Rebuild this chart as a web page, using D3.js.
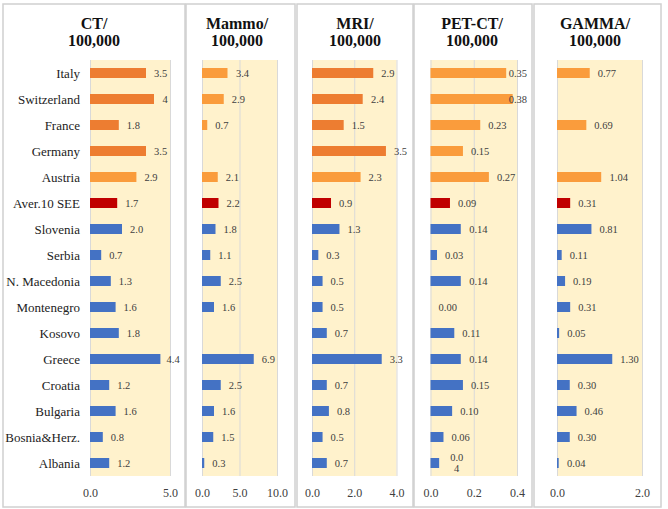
<!DOCTYPE html>
<html>
<head>
<meta charset="utf-8">
<script src="https://cdn.jsdelivr.net/npm/d3@7"></script>
<style>
  body { margin: 0; background: #fff; }
  svg { display: block; }
  svg text { font-family: "Liberation Serif", "DejaVu Serif", serif; }
  .grid line { stroke: #d9d9d9; stroke-width: 1; }
  .grid path { display: none; }
  .tick-labels path, .tick-labels line { display: none; }
  .tick-labels text { font-size: 12px; fill: #404040; }
</style>
</head>
<body>
<svg id="chart" width="668" height="509"></svg>
<script>
// categories, top to bottom
const categories = ["Italy", "Switzerland", "France", "Germany", "Austria", "Aver.10 SEE",
  "Slovenia", "Serbia", "N. Macedonia", "Montenegro", "Kosovo", "Greece", "Croatia",
  "Bulgaria", "Bosnia&Herz.", "Albania"];
// ref = western reference countries, aut = Austria, avg = SEE average, see = SEE countries
const groups = ["ref", "ref", "ref", "ref", "aut", "avg",
  "see", "see", "see", "see", "see", "see", "see", "see", "see", "see"];

const ctValues    = [3.5, 4, 1.8, 3.5, 2.9, 1.7, 2.0, 0.7, 1.3, 1.6, 1.8, 4.4, 1.2, 1.6, 0.8, 1.2];
const ctLabels    = ["3.5", "4", "1.8", "3.5", "2.9", "1.7", "2.0", "0.7", "1.3", "1.6", "1.8", "4.4", "1.2", "1.6", "0.8", "1.2"];
const mammoValues = [3.4, 2.9, 0.7, null, 2.1, 2.2, 1.8, 1.1, 2.5, 1.6, null, 6.9, 2.5, 1.6, 1.5, 0.3];
const mammoLabels = ["3.4", "2.9", "0.7", "", "2.1", "2.2", "1.8", "1.1", "2.5", "1.6", "", "6.9", "2.5", "1.6", "1.5", "0.3"];
const mriValues   = [2.9, 2.4, 1.5, 3.5, 2.3, 0.9, 1.3, 0.3, 0.5, 0.5, 0.7, 3.3, 0.7, 0.8, 0.5, 0.7];
const mriLabels   = ["2.9", "2.4", "1.5", "3.5", "2.3", "0.9", "1.3", "0.3", "0.5", "0.5", "0.7", "3.3", "0.7", "0.8", "0.5", "0.7"];
const petValues   = [0.35, 0.38, 0.23, 0.15, 0.27, 0.09, 0.14, 0.03, 0.14, 0.00, 0.11, 0.14, 0.15, 0.10, 0.06, 0.04];
const petLabels   = ["0.35", "0.38", "0.23", "0.15", "0.27", "0.09", "0.14", "0.03", "0.14", "0.00", "0.11", "0.14", "0.15", "0.10", "0.06", "0.0\n4"];
const gammaValues = [0.77, null, 0.69, null, 1.04, 0.31, 0.81, 0.11, 0.19, 0.31, 0.05, 1.30, 0.30, 0.46, 0.30, 0.04];
const gammaLabels = ["0.77", "", "0.69", "", "1.04", "0.31", "0.81", "0.11", "0.19", "0.31", "0.05", "1.30", "0.30", "0.46", "0.30", "0.04"];

const titles = [["CT/", "100,000"], ["Mammo/", "100,000"], ["MRI/", "100,000"], ["PET-CT/", "100,000"], ["GAMMA/", "100,000"]];
const axisMax = [5, 10, 4, 0.4, 2];
const axisTicks = [[0, 5], [0, 5, 10], [0, 2, 4], [0, 0.2, 0.4], [0, 2]];

const darkOrange = "#ed7d31", lightOrange = "#fa9c3c";
const colors = { aut: lightOrange, avg: "#c00000", see: "#4472c4" };

// layout of the five panels
const layout = [
  { box: [3, 185],   plot: [90, 170],    titleX: 94,  ref: darkOrange },
  { box: [186, 295], plot: [202, 277],   titleX: 237, ref: lightOrange },
  { box: [297, 413], plot: [312, 396.5], titleX: 355, ref: darkOrange },
  { box: [414, 532], plot: [430.5, 517], titleX: 472, ref: lightOrange },
  { box: [534, 661], plot: [557, 642],   titleX: 595, ref: lightOrange }
];
const panelValues = [ctValues, mammoValues, mriValues, petValues, gammaValues];
const panelLabels = [ctLabels, mammoLabels, mriLabels, petLabels, gammaLabels];

const plotTop = 60, plotBottom = 476, boxTop = 4, boxBottom = 507;
const barH = 10;

const svg = d3.select("#chart");

const y = d3.scaleBand()
  .domain(categories)
  .range([plotTop, plotBottom])
  .paddingInner(0)
  .paddingOuter(0);

// category names on the first panel
svg.append("g")
  .selectAll("text")
  .data(categories)
  .join("text")
  .attr("x", 80)
  .attr("y", d => y(d) + y.bandwidth() / 2)
  .attr("dy", "0.35em")
  .attr("text-anchor", "end")
  .attr("font-size", 13)
  .attr("fill", "#222")
  .text(d => d);

layout.forEach((p, i) => {
  const g = svg.append("g");

  g.append("rect")
    .attr("x", p.box[0]).attr("y", boxTop)
    .attr("width", p.box[1] - p.box[0]).attr("height", boxBottom - boxTop)
    .attr("fill", "none").attr("stroke", "#d0d0d0").attr("stroke-width", 1.5);

  g.append("text")
    .attr("x", p.titleX).attr("y", 29)
    .attr("text-anchor", "middle")
    .attr("font-size", 16).attr("font-weight", "bold").attr("fill", "#111")
    .selectAll("tspan")
    .data(titles[i])
    .join("tspan")
    .attr("x", p.titleX)
    .attr("dy", (d, j) => j === 0 ? 0 : 17)
    .text(d => d);

  const x = d3.scaleLinear().domain([0, axisMax[i]]).range(p.plot);

  g.append("rect")
    .attr("x", p.plot[0]).attr("y", plotTop)
    .attr("width", p.plot[1] - p.plot[0]).attr("height", plotBottom - plotTop)
    .attr("fill", "#fff2cc");

  g.append("g")
    .attr("class", "grid")
    .attr("transform", `translate(0,${plotBottom})`)
    .call(d3.axisBottom(x).tickValues(axisTicks[i]).tickSize(-(plotBottom - plotTop)).tickFormat(""));

  g.append("g")
    .attr("class", "tick-labels")
    .attr("transform", `translate(0,${plotBottom + 9})`)
    .call(d3.axisBottom(x).tickValues(axisTicks[i]).tickSize(0).tickFormat(d3.format(".1f")));

  const rows = categories.map((c, j) => ({
    cat: c, group: groups[j], value: panelValues[i][j], label: panelLabels[i][j]
  }));

  g.append("g")
    .selectAll("rect")
    .data(rows.filter(d => d.value !== null))
    .join("rect")
    .attr("x", x(0))
    .attr("y", d => y(d.cat) + (y.bandwidth() - barH) / 2)
    .attr("width", d => x(d.value) - x(0))
    .attr("height", barH)
    .attr("fill", d => d.group === "ref" ? p.ref : colors[d.group]);

  // value labels, kept inside the panel
  const lab = g.append("g")
    .selectAll("text")
    .data(rows.filter(d => d.value !== null))
    .join("text")
    .attr("font-size", 10.5)
    .attr("fill", "#404040")
    .attr("text-anchor", "middle");

  lab.each(function(d) {
    const t = d3.select(this);
    const lines = d.label.split("\n");
    const cy = y(d.cat) + y.bandwidth() / 2;
    t.selectAll("tspan").data(lines).join("tspan")
      .attr("dy", (l, k) => k === 0 ? `${0.35 - (lines.length - 1) * 0.55}em` : "1.1em")
      .text(l => l);
    const w = this.getBBox().width;
    let cx = x(d.value) + 8 + w / 2;
    cx = Math.min(cx, p.box[1] - 5 - w / 2);
    t.attr("y", cy);
    t.selectAll("tspan").attr("x", cx);
  });
});
</script>
</body>
</html>
